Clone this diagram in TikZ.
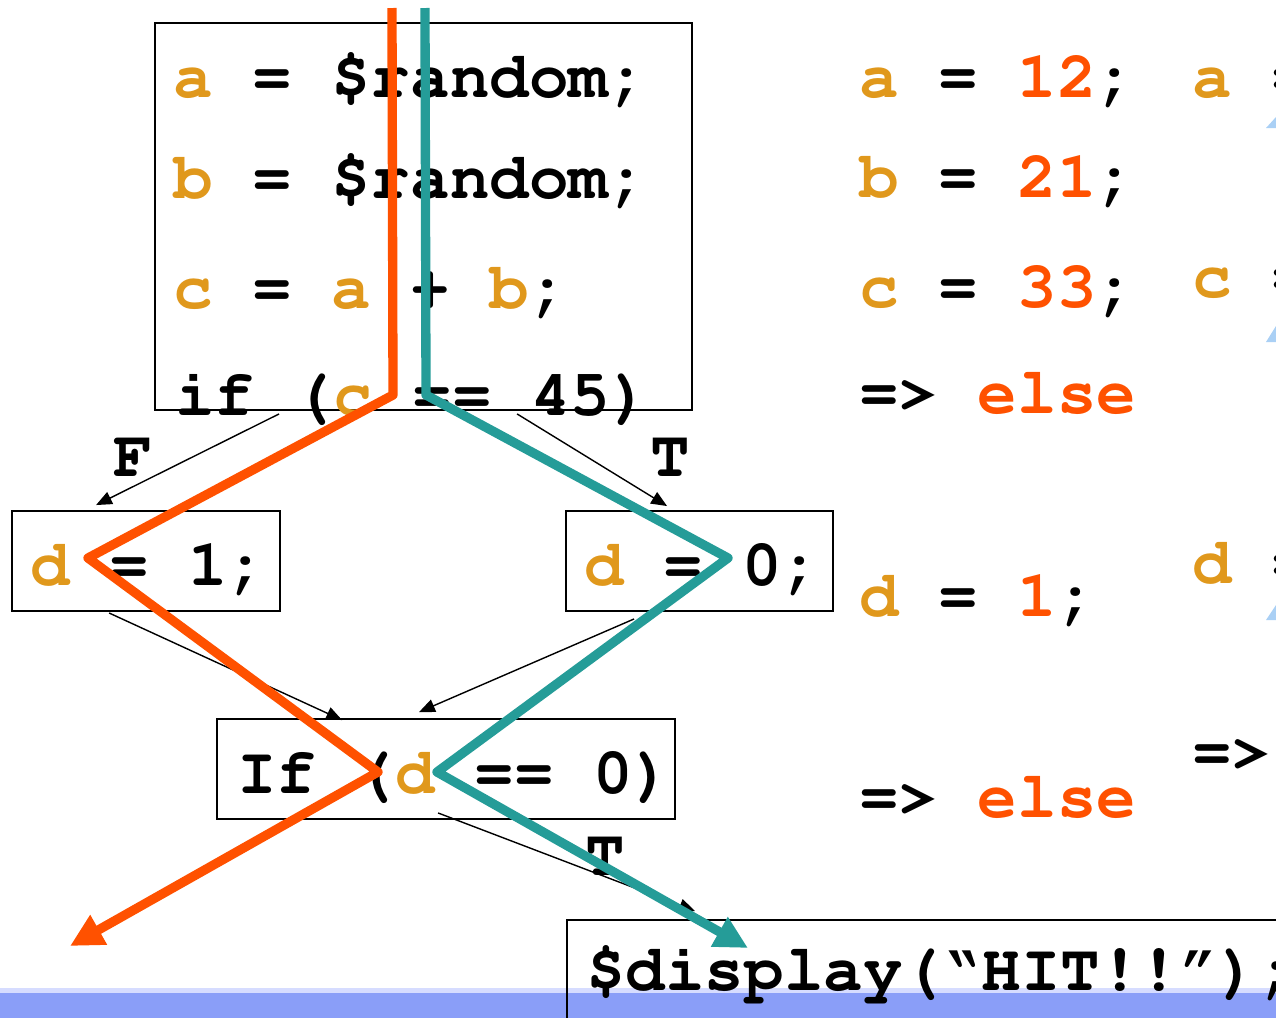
\documentclass[tikz,border=0pt]{standalone}
\usepackage[T1,TU]{fontenc}
\usetikzlibrary{arrows.meta,calc}
\definecolor{varcol}{RGB}{224,152,28}
\definecolor{valcol}{RGB}{255,81,0}
\definecolor{tealcol}{RGB}{37,156,152}
\definecolor{bandcol}{RGB}{138,158,248}
\definecolor{bandtop}{RGB}{214,220,255}
\definecolor{tipcol}{RGB}{170,208,245}
\newcommand{\codefont}{\fontencoding{T1}\fontfamily{pcr}\fontseries{b}\fontsize{37.5}{40}\selectfont}
\newcommand{\vv}[1]{\textcolor{varcol}{#1}}
\newcommand{\vl}[1]{\textcolor{valcol}{#1}}

\begin{document}
\begin{tikzpicture}[x=0.02cm,y=-0.02cm,>=Latex,
  code/.style={font=\codefont,inner sep=0pt,anchor=base west},
  lab/.style={font=\codefont,inner sep=0pt},
  box/.style={draw,line width=1.1pt,inner sep=0pt},
  flow/.style={-{Triangle[length=9pt,width=7.5pt]},line width=0.8pt},
  trace/.style={line width=5.3pt,line join=round,-{Triangle[length=0.66cm,width=0.64cm]}}]
\clip (0,0) rectangle (1276,1018);
\fill[bandtop] (0,988) rectangle (1276,993);
\fill[bandcol] (0,993) rectangle (1276,1018);

\node[box,minimum width=10.74cm,minimum height=7.74cm] (init) at (423.5,216.5) {};
\node[code] (la) at (173,97) {\vv{a} = \$random;};
\node[code] (lb) at (173,198) {\vv{b} = \$random;};
\node[code] (lc) at (173,308) {\vv{c} = \vv{a} + \vv{b};};
\node[code] (lif) at (175,415) {if (\vv{c} == 45)};

\node[box,minimum width=5.36cm,minimum height=2cm] (dset1) at (146,561) {};
\node[code] (d1txt) at (30,585) {\vv{d} = 1;};
\node[box,minimum width=5.34cm,minimum height=2cm] (dset0) at (699.5,561) {};
\node[code] (d0txt) at (584,585) {\vv{d} = 0;};
\node[box,minimum width=9.16cm,minimum height=2cm] (test) at (446,769) {};
\node[code] (testtxt) at (237,793) {If (\vv{d} == 0)};
\node[box,anchor=north west,minimum width=16cm,minimum height=4cm] (hit) at (566,919) {};
\node[code] (hittxt) at (586,990) {\$display(\textquotedblleft HIT!!\textquotedblright);};

\draw[flow] ($(init.south west)+(125,3)$) -- ($(dset1.north west)+(85,-5)$);
\node[lab] (flab) at (133,458) {F};
\draw[flow] ($(init.south west)+(363,3)$) -- ($(dset0.north west)+(102,-4)$);
\node[lab] (tlab1) at (670,458) {T};
\draw[flow] ($(dset1.south west)+(98,1)$) -- ($(test.north west)+(126,2)$);
\draw[flow] ($(dset0.south west)+(69,7)$) -- ($(test.north west)+(203,-6)$);
\draw[flow] ($(test.south west)+(222,-7)$) -- ($(hit.north west)+(129,-8)$);
\node[lab] (tlab2) at (605,857) {T};

\node[code] (ra) at (859,97) {\vv{a} = \vl{12};};
\node[code] (rb) at (859,197) {\vv{b} = \vl{21};};
\node[code] (rc) at (859,307) {\vv{c} = \vl{33};};
\node[code] (rif) at (859,413) {=> \vl{else}};
\node[code] (rd) at (859,616) {\vv{d} = \vl{1};};
\node[code] (rtest) at (859,817) {=> \vl{else}};

\node[code] (xa) at (1192,97) {\vv{a} =};
\node[code] (xc) at (1192,297) {\vv{c} =};
\node[code] (xd) at (1192,583) {\vv{d} =};
\node[code] (xtest) at (1192,772) {=>};
\fill[tipcol] (1266,128) -- (1276,117) -- (1276,128) -- cycle;
\fill[tipcol] (1266,342) -- (1276,326) -- (1276,342) -- cycle;
\fill[tipcol] (1266,620) -- (1276,605) -- (1276,620) -- cycle;

\draw[trace,valcol] (392,8) -- (393,395) -- (88,558) -- (378,772) -- (70,946);
\draw[trace,tealcol] (425,8) -- (426,395) -- (728,558) -- (437,772) -- (748,948);
\end{tikzpicture}
\end{document}
